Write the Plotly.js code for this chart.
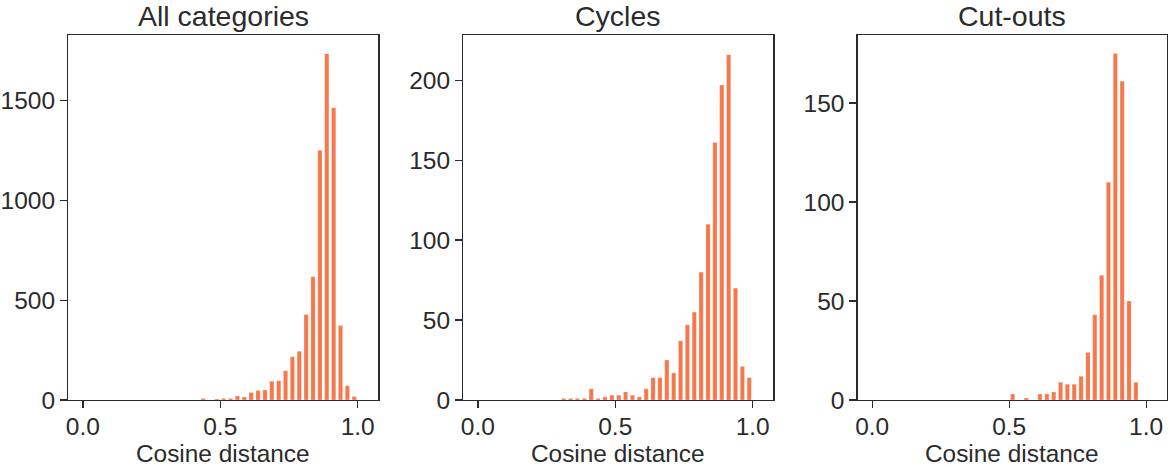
<!DOCTYPE html>
<html>
<head>
<meta charset="utf-8">
<script src="https://cdn.plot.ly/plotly-3.0.1.min.js"></script>
<style>
  html, body { margin: 0; padding: 0; background: #fff; }
  #chart { width: 1170px; height: 467px; }
</style>
</head>
<body>
<div id="chart"></div>
<script>
  // Histogram bin centres (bin width 0.025) and counts.
  const allX = [0.4375, 0.4875, 0.5125, 0.5375, 0.5625, 0.5875, 0.6125, 0.6375, 0.6625, 0.6875, 0.7125,
    0.7375, 0.7625, 0.7875, 0.8125, 0.8375, 0.8625, 0.8875, 0.9125, 0.9375, 0.9625, 0.9875];
  const allCounts = [7, 5, 8, 7, 20, 15, 37, 48, 50, 94, 97,
    147, 217, 244, 428, 618, 1251, 1735, 1464, 373, 72, 17];

  const cycleX = [0.3125, 0.3375, 0.3625, 0.3875, 0.4125, 0.4375, 0.4625, 0.4875, 0.5125, 0.5375,
    0.5625, 0.5875, 0.6125, 0.6375, 0.6625, 0.6875, 0.7125, 0.7375, 0.7625, 0.7875,
    0.8125, 0.8375, 0.8625, 0.8875, 0.9125, 0.9375, 0.9625, 0.9875];
  const cycleCounts = [1, 1, 1, 1, 7, 1, 2, 3, 3, 5,
    3, 2, 7, 14, 14, 25, 17, 37, 47, 55,
    80, 110, 161, 197, 216, 70, 21, 14];

  const cutX = [0.5125, 0.5625, 0.6125, 0.6375, 0.6625, 0.6875, 0.7125, 0.7375, 0.7625,
    0.7875, 0.8125, 0.8375, 0.8625, 0.8875, 0.9125, 0.9375, 0.9625];
  const cutCounts = [3, 1, 3, 3, 4, 9, 8, 8, 12,
    24, 43, 63, 110, 175, 161, 50, 9];

  const titles = ["All categories", "Cycles", "Cut-outs"];
  const xLabel = "Cosine distance";
  const xTicks = [0, 0.5, 1.0];
  const xTickText = ["0.0", "0.5", "1.0"];
  const yTicks = [[0, 500, 1000, 1500], [0, 50, 100, 150, 200], [0, 50, 100, 150]];

  const FONT = "Liberation Sans, Arial, Helvetica, sans-serif";
  const INK = "#2b2b2b";
  const BAR = "#F5784D";

  const W = 1170, H = 467;
  // panel frames in pixels (left, right), shared top/bottom
  const frames = [[68.3, 378.3], [463.3, 773.3], [857.7, 1166.7]];
  const frameTop = 35, frameBottom = 400;
  const yMax = [1829, 228.3, 184.3];

  const series = [[allX, allCounts], [cycleX, cycleCounts], [cutX, cutCounts]];

  const traces = series.map(([x, y], i) => ({
    type: "bar",
    x, y,
    width: 0.0155,
    xaxis: i ? "x" + (i + 1) : "x",
    yaxis: i ? "y" + (i + 1) : "y",
    marker: { color: BAR, line: { color: "rgba(255,255,255,0.6)", width: 0.4 } },
    hoverinfo: "x+y",
  }));

  const layout = {
    width: W, height: H,
    margin: { l: 0, r: 0, t: 0, b: 0 },
    paper_bgcolor: "#fff", plot_bgcolor: "#fff",
    font: { family: FONT, color: INK, size: 24 },
    showlegend: false,
    annotations: [],
  };

  frames.forEach(([l, r], i) => {
    const sfx = i ? String(i + 1) : "";
    layout["xaxis" + sfx] = {
      domain: [l / W, r / W],
      anchor: "y" + sfx,
      range: [-0.053, 1.075],
      tickvals: xTicks, ticktext: xTickText,
      ticks: "outside", ticklen: 7, tickwidth: 1.3, tickcolor: INK,
      ticklabelstandoff: -3,
      showline: true, linecolor: INK, linewidth: 1.3, mirror: true,
      showgrid: false, zeroline: false,
      tickfont: { size: 24.5, color: INK },
      fixedrange: true,
    };
    layout["yaxis" + sfx] = {
      domain: [1 - frameBottom / H, 1 - frameTop / H],
      anchor: "x" + sfx,
      range: [0, yMax[i]],
      tickvals: yTicks[i],
      ticks: "outside", ticklen: 7, tickwidth: 1.3, tickcolor: INK,
      ticklabelstandoff: 0,
      showline: true, linecolor: INK, linewidth: 1.3, mirror: true,
      showgrid: false, zeroline: false,
      tickfont: { size: 24.5, color: INK },
      fixedrange: true,
    };
    // panel title
    layout.annotations.push({
      text: titles[i],
      xref: "paper", yref: "paper",
      x: (l + r) / 2 / W, y: 1 - 16 / H,
      xanchor: "center", yanchor: "middle",
      showarrow: false,
      font: { size: 28.5, color: INK, family: FONT },
    });
    // x axis label, pinned near the bottom edge like the original
    layout.annotations.push({
      text: xLabel,
      xref: "paper", yref: "paper",
      x: (l + r) / 2 / W, y: 0,
      xanchor: "center", yanchor: "bottom",
      yshift: -2,
      showarrow: false,
      font: { size: 24.4, color: INK, family: FONT },
    });
  });

  Plotly.newPlot("chart", traces, layout, { displayModeBar: false, staticPlot: true });
</script>
</body>
</html>
